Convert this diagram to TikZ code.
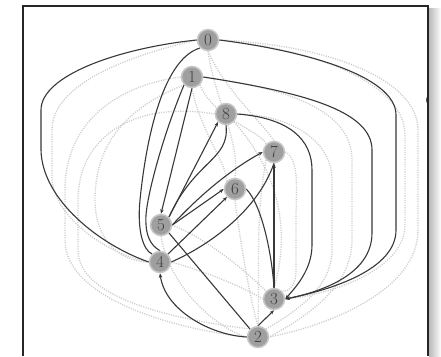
\documentclass[tikz,border=0pt]{standalone}
\usetikzlibrary{arrows.meta,backgrounds}
\begin{document}
\begin{tikzpicture}[x=1pt,y=-1pt,
  vtx/.style={circle,fill=gray!75,draw=gray!45,line width=1.5pt,minimum size=21pt,inner sep=0pt,
    font=\fontsize{17}{17}\selectfont,text=black!75},
  sol/.style={draw=black!78,line width=1.1pt},
  arr/.style={sol,-{Stealth[length=4.5pt,width=3.5pt]}},
  dot/.style={draw=gray!40,line width=1.3pt,dash pattern=on 1.1pt off 1.3pt}]
\useasboundingbox (0,0) rectangle (441,356);
% nodes
\node[vtx] (n0) at (208,40) {0};
\node[vtx] (n1) at (192,77) {1};
\node[vtx] (n8) at (226,114) {8};
\node[vtx] (n7) at (274,152) {7};
\node[vtx] (n6) at (235,189) {6};
\node[vtx] (n5) at (161,225) {5};
\node[vtx] (n4) at (160,262) {4};
\node[vtx] (n3) at (274,299) {3};
\node[vtx] (n2) at (258,337) {2};
\begin{pgfonlayer}{background}
\fill[white] (0,0) rectangle (441,356);
\shade[left color=gray!55,right color=white] (429,8) rectangle (441,356);
% dotted gray edges
\draw[dot] (n0.east) .. controls (330,45) and (418,80) .. (418,130) -- (418,230) .. controls (418,290) and (330,325) .. (n2.east);
\draw[dot] (n0.east) .. controls (320,50) and (405,85) .. (405,135) -- (405,225) .. controls (405,270) and (330,295) .. (n3.east);
\draw[dot] (n1.east) .. controls (300,90) and (352,115) .. (352,160) -- (352,240) .. controls (352,290) and (300,320) .. (n2.east);
\draw[dot] (n8.east) .. controls (290,115) and (332,140) .. (332,180) -- (332,250) .. controls (332,290) and (290,315) .. (n2.north east);
\draw[dot] (n7.east) .. controls (300,160) and (296,190) .. (296,220) -- (296,270) .. controls (296,285) and (290,292) .. (n3.north east);
\draw[dot] (n1.west) .. controls (120,85) and (65,120) .. (65,190) -- (65,240) .. controls (65,300) and (180,330) .. (n2.west);
\draw[dot] (n8.west) .. controls (130,100) and (78,140) .. (78,200) -- (78,250) .. controls (78,300) and (180,320) .. (n2.north west);
\draw[dot] (n0.west) .. controls (110,60) and (52,90) .. (52,130) -- (52,180) .. controls (56,220) and (110,255) .. (n4.west);
\draw[dot] (n1.south west) .. controls (120,110) and (95,150) .. (95,200) .. controls (95,240) and (120,262) .. (n4.west);
\draw[dot] (n4.east) .. controls (200,270) and (240,285) .. (n3.west);
\draw[dot] (n5.east) .. controls (210,240) and (250,275) .. (n3.north west);
\draw[dot] (n0.south) .. controls (225,90) and (260,120) .. (n7.north);
\draw[dot] (n0.south) .. controls (215,100) and (240,140) .. (n6.north);
\draw[dot] (n1.south east) .. controls (215,120) and (260,130) .. (n7.north west);
\draw[dot] (n1.south) .. controls (200,130) and (225,160) .. (n6.north west);
\draw[dot] (n8.south east) .. controls (250,140) and (300,200) .. (n3.north);
\draw[dot] (n6.south) .. controls (240,240) and (250,300) .. (n2.north);
\draw[dot] (n5.south) .. controls (170,290) and (220,330) .. (n2.west);
\draw[dot] (n7.south west) .. controls (255,220) and (260,270) .. (n2.north);
% solid edges
\draw[sol] (n0.west) .. controls (120,48) and (41,75) .. (41,110) -- (41,150) .. controls (42,200) and (100,245) .. (n4.west);
\draw[arr] (n0.east) .. controls (300,50) and (396,75) .. (396,115) -- (396,230) .. controls (396,270) and (330,290) .. (n3.east);
\draw[arr] (n1.east) .. controls (300,92) and (372,110) .. (372,150) -- (372,233) .. controls (372,275) and (320,292) .. (n3.east);
\draw[arr] (n8.east) .. controls (290,118) and (312,140) .. (312,170) -- (312,245) .. controls (312,270) and (295,288) .. (n3.east);
\draw[sol] (n0.south west) .. controls (160,60) and (145,150) .. (140,200) .. controls (137,230) and (143,250) .. (n4.north west);
\draw[sol] (n1.south west) .. controls (165,130) and (148,190) .. (146,215) .. controls (145,235) and (150,245) .. (n4.north);
\draw[arr] (n1.south) -- (n5.north);
\draw[arr] (n5.north east) -- (n8.south west);
\draw[sol] (n8.south) .. controls (230,160) and (195,160) .. (n5.north east);
\draw[arr] (n5.east) .. controls (200,195) and (230,170) .. (n7.west);
\draw[arr] (n5.east) -- (n6.west);
\draw[arr] (n4.north east) -- (n6.south west);
\draw[sol] (n7.south) .. controls (258,210) and (210,245) .. (n4.east);
\draw[sol] (n5.south east) -- (n2.north west);
\draw[arr] (n2.west) .. controls (210,335) and (165,310) .. (n4.south);
\draw[sol] (n6.east) .. controls (262,205) and (272,255) .. (n3.north);
\draw[arr] (n3.north) -- (n7.south);
\draw[arr] (n2.north) -- (n3.south);
\end{pgfonlayer}
% partially visible node at the right edge
\begin{scope}
\clip (0,0) rectangle (428,356);
\fill[black!70] (432,100) circle (6);
\end{scope}
% frame
\draw[black!85,line width=1.6pt] (23,356) -- (23,6) -- (428,6) -- (428,356);
\end{tikzpicture}
\end{document}
